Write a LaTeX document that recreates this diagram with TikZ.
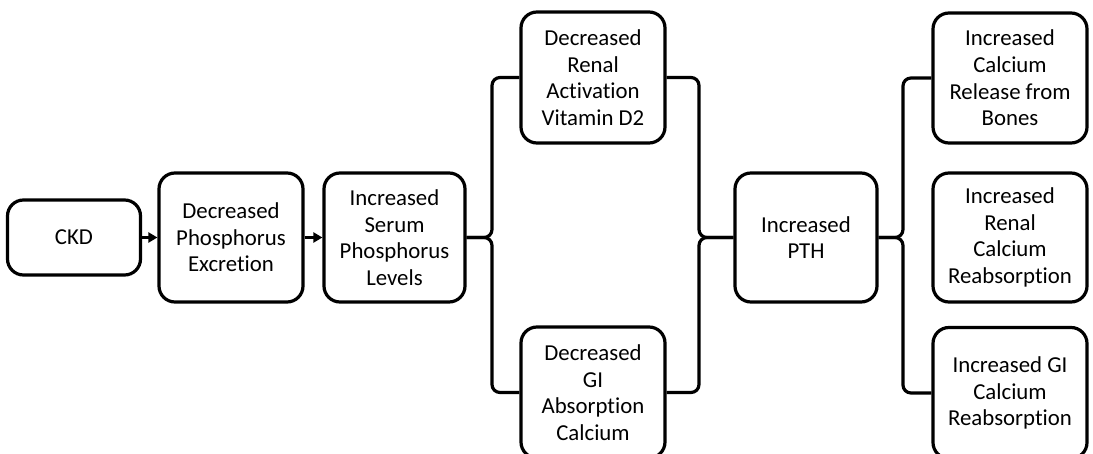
\documentclass[tikz,border=0pt]{standalone}
\usepackage{fontspec}
\setmainfont[Ligatures=NoCommon]{Carlito}
\usetikzlibrary{arrows.meta}
\begin{document}
\begin{tikzpicture}[x=0.5pt,y=-0.5pt,
  box/.style={draw=black,line width=1.6pt,rounded corners=8pt,align=center,
    inner sep=0pt,font=\fontsize{11.4pt}{13.3pt}\selectfont},
  conn/.style={line width=1.6pt,rounded corners=4pt},
  arr/.style={line width=1.6pt,-{Triangle[length=4.5pt,width=5pt]}}]
\clip (0,0) rectangle (1093,454);
\fill[white] (0,0) rectangle (1093,454);
\node[box,minimum width=66.5pt,minimum height=37.5pt] (ckd) at (74,237.5) {CKD};
\node[box,minimum width=72pt,minimum height=64.5pt] (dpe) at (231,237.5) {Decreased\\Phosphorus\\Excretion};
\node[box,minimum width=70.5pt,minimum height=64.5pt] (ispl) at (394.5,237.5) {Increased\\Serum\\Phosphorus\\Levels};
\node[box,minimum width=72pt,minimum height=65.5pt] (vd) at (593,77.5) {Decreased\\Renal\\Activation\\Vitamin D2};
\node[box,minimum width=72pt,minimum height=65.5pt] (gi) at (593,392.5) {Decreased\\GI\\Absorption\\Calcium};
\node[box,minimum width=71pt,minimum height=64.5pt] (pth) at (806,237.5) {Increased\\PTH};
\node[box,minimum width=77pt,minimum height=65pt] (r1) at (1010,78) {Increased\\Calcium\\Release from\\Bones};
\node[box,minimum width=77pt,minimum height=64.5pt] (r2) at (1010,237.5) {Increased\\Renal\\Calcium\\Reabsorption};
\node[box,minimum width=77pt,minimum height=65.5pt] (r3) at (1010,393) {Increased GI\\Calcium\\Reabsorption};
\coordinate (b1) at (492,237.5);
\coordinate (b2) at (699,237.5);
\coordinate (b3) at (903,237.5);
\draw[arr] (ckd) -- (dpe);
\draw[arr] (dpe) -- (ispl);
\draw[conn] (ispl.east) -- (b1) |- (vd.west);
\draw[conn] (ispl.east) -- (b1) |- (gi.west);
\draw[conn] (vd.east) -| (b2) -- (pth.west);
\draw[conn] (gi.east) -| (b2) -- (pth.west);
\draw[conn] (pth.east) -- (b3) |- (r1.west);
\draw[conn] (pth.east) -- (b3) |- (r3.west);
\end{tikzpicture}
\end{document}
